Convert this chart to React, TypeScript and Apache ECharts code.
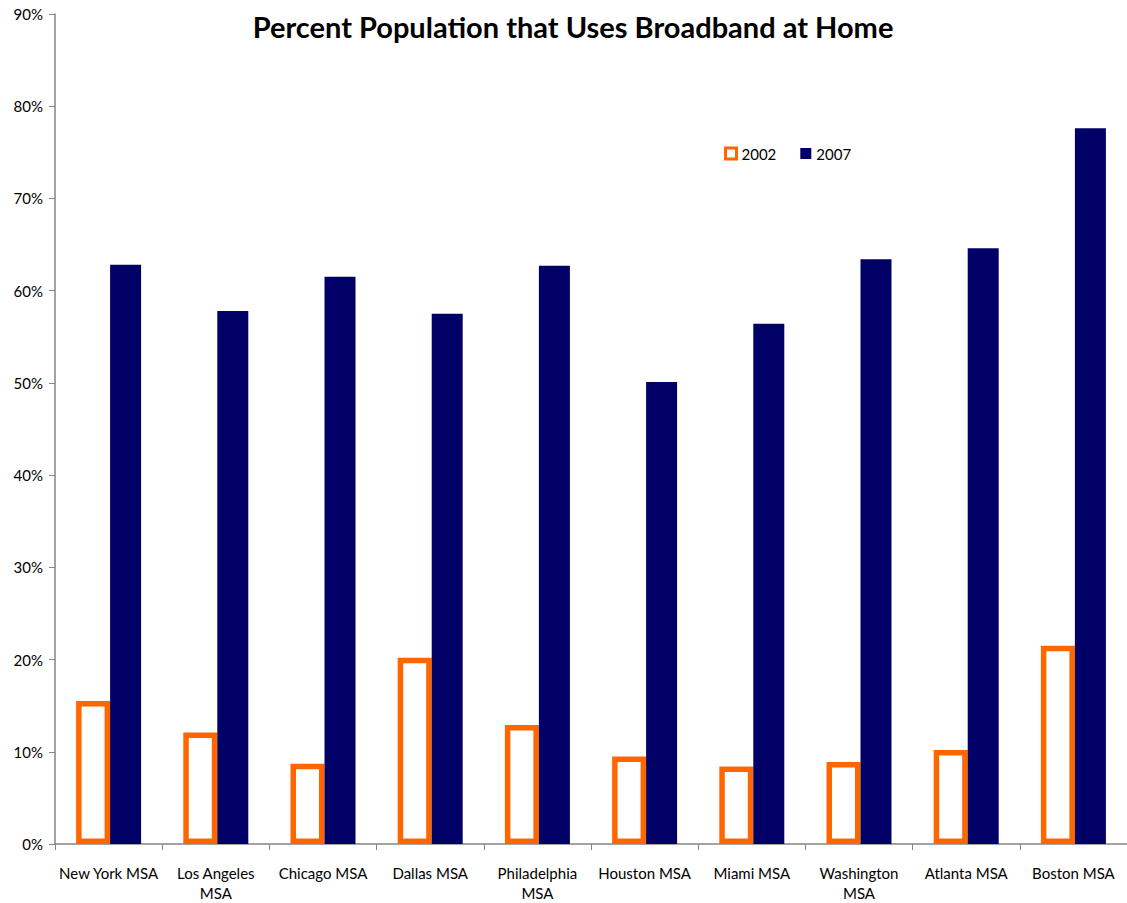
import React, { useEffect, useRef } from "react";
import * as echarts from "echarts";

const categories = [
  "New York MSA",
  "Los Angeles\nMSA",
  "Chicago MSA",
  "Dallas MSA",
  "Philadelphia\nMSA",
  "Houston MSA",
  "Miami MSA",
  "Washington\nMSA",
  "Atlanta MSA",
  "Boston MSA",
];
const values2002 = [15.5, 12.1, 8.7, 20.2, 12.9, 9.5, 8.4, 8.9, 10.2, 21.5];
const values2007 = [62.8, 57.8, 61.5, 57.5, 62.7, 50.1, 56.4, 63.4, 64.6, 77.6];

const FONT = "Lato, 'Open Sans', sans-serif";

export default function App() {
  const ref = useRef<HTMLDivElement>(null);
  useEffect(() => {
    if (!ref.current) return;
    const chart = echarts.init(ref.current, undefined, { renderer: "svg" });
    chart.setOption({
      animation: false,
      backgroundColor: "#ffffff",
      textStyle: { fontFamily: FONT },
      title: {
        text: "Percent Population that Uses Broadband at Home",
        left: 568,
        textAlign: "center",
        top: 7,
        textStyle: { fontSize: 29, fontWeight: "bold", color: "#000", fontFamily: FONT },
      },
      legend: {
        left: 719,
        top: 141,
        itemWidth: 11,
        itemHeight: 11,
        itemGap: 24,
        textStyle: { fontSize: 15, color: "#000", fontFamily: FONT },
        data: [
          { name: "2002", icon: "rect", itemStyle: { color: "#fff", borderColor: "#FF6600", borderWidth: 3 } },
          { name: "2007", icon: "rect" },
        ],
      },
      grid: { left: 55, right: -10, top: 14, bottom: 56, containLabel: false },
      xAxis: {
        type: "category",
        data: categories,
        axisLine: { lineStyle: { color: "#868686", width: 1.5 } },
        axisTick: { show: true, alignWithLabel: false, length: 6, lineStyle: { color: "#868686" } },
        axisLabel: { fontSize: 15, color: "#000", margin: 19, lineHeight: 20, fontFamily: FONT, interval: 0 },
      },
      yAxis: {
        type: "value",
        min: 0,
        max: 90,
        interval: 10,
        axisLine: { show: true, lineStyle: { color: "#868686", width: 1.5 } },
        axisTick: { show: true, length: 6, lineStyle: { color: "#868686" } },
        splitLine: { show: false },
        axisLabel: { fontSize: 15, color: "#000", formatter: "{value}%", margin: 12, fontFamily: FONT },
      },
      series: [
        {
          name: "2002",
          type: "bar",
          data: values2002,
          barWidth: 34,
          barGap: "0%",
          itemStyle: { color: "#ffffff", borderColor: "#FF6600", borderWidth: 5.5 },
        },
        {
          name: "2007",
          type: "bar",
          data: values2007,
          barWidth: 31,
          barGap: "0%",
          itemStyle: { color: "#000066" },
        },
      ],
    });
    return () => chart.dispose();
  }, []);
  return (
    <div
      ref={ref}
      style={{ position: "fixed", left: 0, top: 0, width: 1127, height: 903, background: "#fff" }}
    />
  );
}
